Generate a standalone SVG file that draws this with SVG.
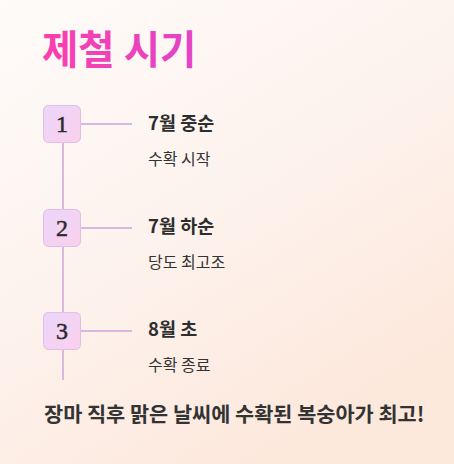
<svg xmlns="http://www.w3.org/2000/svg" width="454" height="464" viewBox="0 0 454 464">
<defs>
<linearGradient id="bg" x1="0" y1="0" x2="0.6" y2="1">
<stop offset="0" stop-color="#fefbf9"/>
<stop offset="0.5" stop-color="#fdf3ee"/>
<stop offset="1" stop-color="#fde8dc"/>
</linearGradient>
<linearGradient id="title" x1="0" y1="0" x2="1" y2="0">
<stop offset="0" stop-color="#fb3fae"/>
<stop offset="1" stop-color="#e244c6"/>
</linearGradient>
<linearGradient id="box" x1="0" y1="0" x2="1" y2="1">
<stop offset="0" stop-color="#ead6fa"/>
<stop offset="1" stop-color="#fbd0ec"/>
</linearGradient>
<style>
.num{font-family:"Liberation Serif","DejaVu Serif",serif;font-size:24px;fill:#2b2b2b;text-anchor:middle;stroke:#2b2b2b;stroke-width:0.5}
.head{font-family:"Noto Sans CJK KR","Noto Sans",sans-serif;font-size:18.5px;font-weight:700;fill:#2e2e2e}
.sub{font-family:"Noto Sans CJK KR","Noto Sans",sans-serif;font-size:16px;fill:#333}
.box{fill:url(#box);stroke:#e2bde6;stroke-width:1}
.ln{stroke:#dbb6df;stroke-width:2;fill:none}
</style>
</defs>
<rect width="454" height="464" fill="url(#bg)"/>
<text x="42" y="64" font-family="'Noto Sans CJK KR',sans-serif" font-size="39.5" font-weight="700" fill="url(#title)">제철 시기</text>
<g id="connectors">
<line class="ln" x1="63" y1="143" x2="63" y2="380"/>
<line class="ln" x1="81" y1="124" x2="132" y2="124"/>
<line class="ln" x1="81" y1="228" x2="132" y2="228"/>
<line class="ln" x1="81" y1="331" x2="132" y2="331"/>
</g>
<g id="step1">
<rect class="box" x="43.5" y="105.5" width="37" height="37" rx="5"/>
<text class="num" x="62" y="132">1</text>
<text class="head" x="148" y="130">7월 중순</text>
<text class="sub" x="148" y="165">수확 시작</text>
</g>
<g id="step2">
<rect class="box" x="43.5" y="209.5" width="37" height="37" rx="5"/>
<text class="num" x="62" y="236">2</text>
<text class="head" x="148" y="233">7월 하순</text>
<text class="sub" x="148" y="268">당도 최고조</text>
</g>
<g id="step3">
<rect class="box" x="43.5" y="312.5" width="37" height="37" rx="5"/>
<text class="num" x="62" y="339">3</text>
<text class="head" x="148" y="336">8월 초</text>
<text class="sub" x="148" y="371">수확 종료</text>
</g>
<text x="44" y="422" font-family="'Noto Sans CJK KR',sans-serif" font-size="20.8" font-weight="700" fill="#333">장마 직후 맑은 날씨에 수확된 복숭아가 최고!</text>
</svg>
